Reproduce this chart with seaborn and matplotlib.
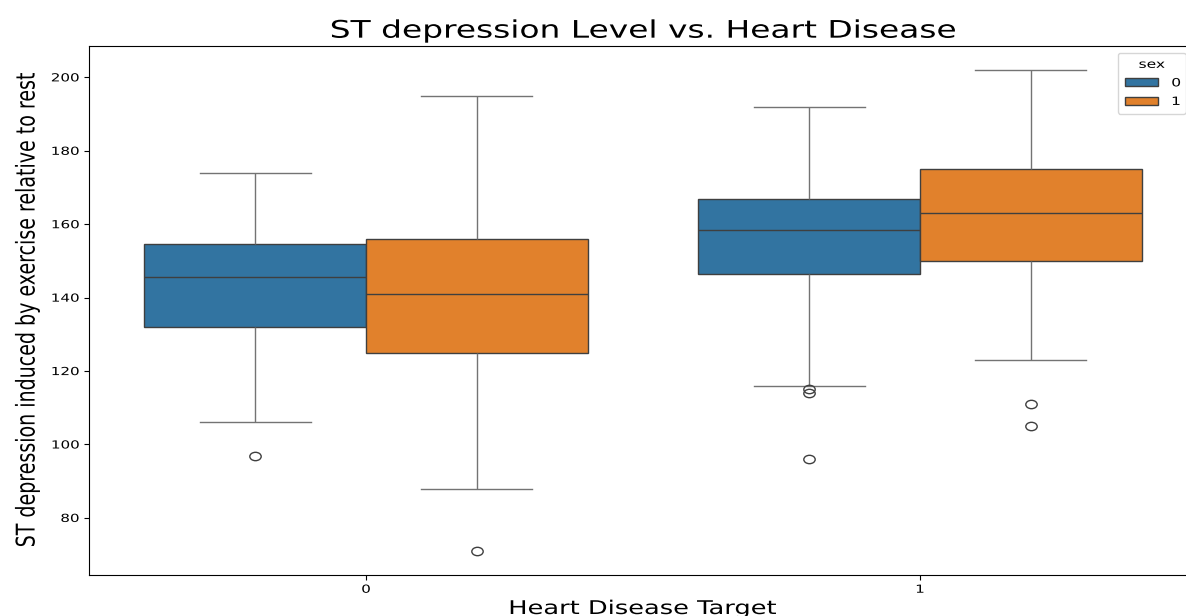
import matplotlib
matplotlib.use("Agg")
import matplotlib.pyplot as plt
from matplotlib.patheffects import AbstractPathEffect
from matplotlib.transforms import Affine2D
from matplotlib.path import Path
import pandas as pd
import seaborn as sns

# Five-number summaries per (target, sex) group, plus the points beyond the whiskers
target_groups = ["0", "0", "1", "1"]
sex_groups = ["0", "1", "0", "1"]
whisker_low = [106, 88, 116, 123]
q1 = [132, 125, 146.5, 150]
median = [145.5, 141, 158.5, 163]
q3 = [154.5, 156, 167, 175]
whisker_high = [174, 195, 192, 202]
outliers = [[97], [71], [115, 114, 96], [111, 105]]
y_ticks = [80, 100, 120, 140, 160, 180, 200]

# Observations reproducing each group's quartiles and whisker ends
block = 20
rows = []
for t, s, lo, a, m, b, hi, out in zip(target_groups, sex_groups, whisker_low,
                                      q1, median, q3, whisker_high, outliers):
    values = list(out) + [lo] + [a] * block + [m] * block + [b] * block + [hi]
    rows += [(t, s, v) for v in values]
df = pd.DataFrame(rows, columns=["target", "sex", "thalach"])

WIDEN = 1.36  # horizontal widening applied to the lettering


class StretchX(AbstractPathEffect):
    """Draw text glyphs widened along the screen x axis around an anchor."""

    def __init__(self, factor, anchor="center"):
        super().__init__()
        self.factor = factor
        self.anchor = anchor

    def draw_path(self, renderer, gc, tpath, affine, rgbFace=None):
        if len(tpath.vertices) == 0:
            return
        ext = tpath.transformed(affine).get_extents()
        if self.anchor == "left":
            x0 = ext.x0
        elif self.anchor == "right":
            x0 = ext.x1
        else:
            x0 = 0.5 * (ext.x0 + ext.x1)
        widened = affine + Affine2D().translate(-x0, 0).scale(self.factor, 1).translate(x0, 0)
        renderer.draw_path(gc, tpath, widened, rgbFace)


def widen(text, anchor="center"):
    text.set_path_effects([StretchX(WIDEN, anchor)])


# Slightly wide ellipse for the outlier markers
flier_marker = Path.unit_circle().transformed(Affine2D().scale(WIDEN, 1))

fig = plt.figure(figsize=(11.86, 6.16), dpi=100)
ax = fig.add_axes([89 / 1186, 1 - 575 / 616, (1197 - 89) / 1186, (575 - 46) / 616])

sns.boxplot(data=df, x="target", y="thalach", hue="sex", ax=ax,
            flierprops=dict(marker=flier_marker, markersize=8.2),
            whiskerprops=dict(color="0.45"), capprops=dict(color="0.45"))

ax.set_yticks(y_ticks)
ax.tick_params(labelsize=8)
for lab in ax.get_yticklabels():
    widen(lab, "right")
for lab in ax.get_xticklabels():
    widen(lab)

title = ax.set_title("ST depression Level vs. Heart Disease", fontsize=17.4)
widen(title)
xl = ax.set_xlabel("Heart Disease Target", fontsize=13.6)
widen(xl)
ax.xaxis.set_label_coords(0.5, (575 - 599) / 529)
yl = ax.set_ylabel("ST depression induced by exercise relative to rest", fontsize=13.7)
widen(yl, "right")
ax.yaxis.set_label_coords((40 - 89) / 1108, 0.5)

leg = ax.legend(title="sex", loc="upper left", fontsize=8.2, title_fontsize=8.2,
                bbox_to_anchor=(1118 / 1186, 1 - 53 / 616),
                bbox_transform=fig.transFigure, borderaxespad=0,
                handlelength=2.9, handleheight=0.7, labelspacing=0.75,
                handletextpad=1.2, borderpad=0.6)
for lab in leg.get_texts():
    widen(lab, "left")
widen(leg.get_title())

fig.savefig("out.png", dpi=100)
